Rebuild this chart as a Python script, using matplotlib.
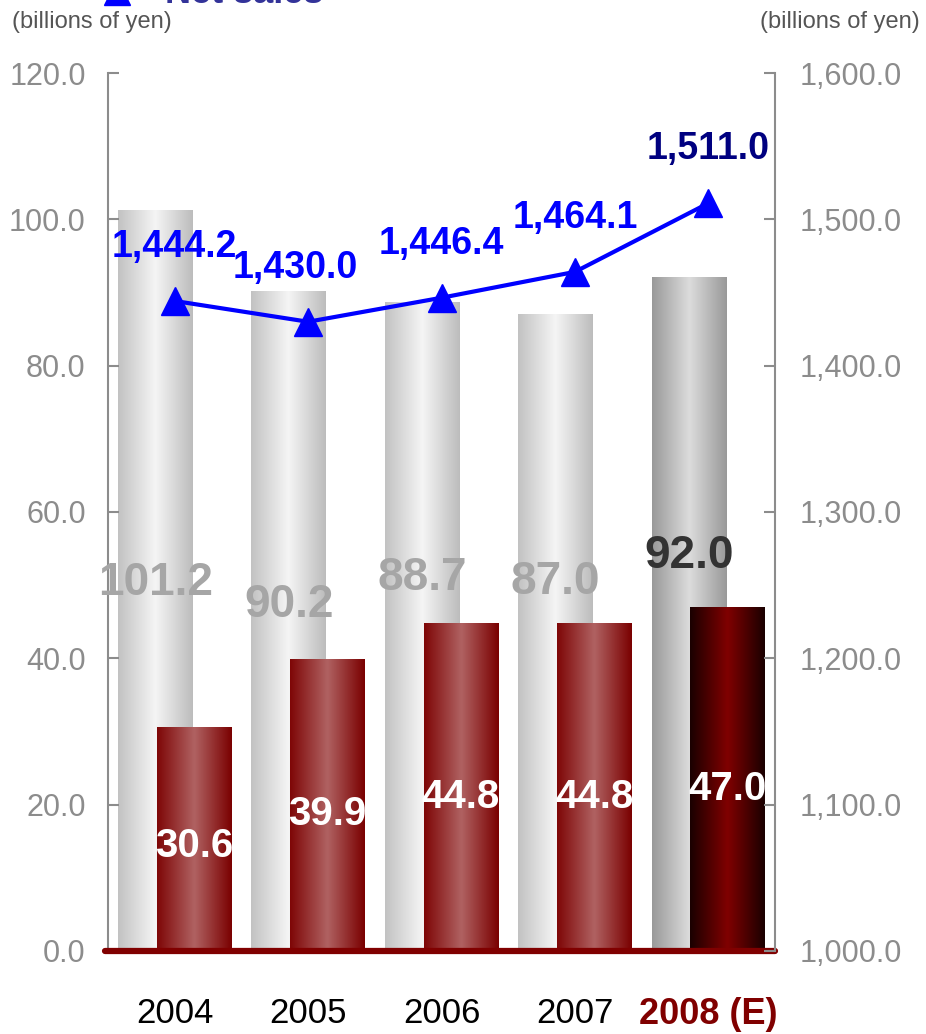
import numpy as np
import matplotlib
matplotlib.use("Agg")
import matplotlib.pyplot as plt
from matplotlib.colors import LinearSegmentedColormap
from matplotlib.lines import Line2D

plt.rcParams['font.family'] = ['Liberation Sans', 'DejaVu Sans']

years = ["2004", "2005", "2006", "2007", "2008 (E)"]
gray_vals = [101.2, 90.2, 88.7, 87.0, 92.0]
red_vals = [30.6, 39.9, 44.8, 44.8, 47.0]
net_sales = [1444.2, 1430.0, 1446.4, 1464.1, 1511.0]

# where the gray value labels sit (left axis units)
gray_label_y = [50.3, 47.3, 51.0, 50.4, 54.0]

gray_cols = ['#c2c2c2', '#f5f5f5', '#bcbcbc']
gray_cols_e = ['#999999', '#dcdcdc', '#999999']
red_cols = ['#7e0606', '#b06262', '#7a0000']
red_cols_e = ['#1a0000', '#800000', '#1a0000']


def grad_fill(ax, rect, cols, z):
    cmap = LinearSegmentedColormap.from_list('', cols)
    x, w, h = rect.get_x(), rect.get_width(), rect.get_height()
    ax.imshow(np.linspace(0, 1, 256).reshape(1, -1), cmap=cmap,
              extent=(x, x + w, 0, h), aspect='auto', zorder=z,
              interpolation='bicubic')
    rect.set_facecolor('none')


fig = plt.figure(figsize=(9.26, 10.34), dpi=100)
ax = fig.add_axes([0.1166, 0.0803, 0.7204, 0.8491])
ax2 = ax.twinx()

x = np.arange(len(years))
off, w = 0.145, 0.56

gbars = ax.bar(x - off, gray_vals, w, zorder=1, linewidth=0)
rbars = ax.bar(x + off, red_vals, w, zorder=2, linewidth=0)
for i, b in enumerate(gbars):
    grad_fill(ax, b, gray_cols_e if i == 4 else gray_cols, 1)
for i, b in enumerate(rbars):
    grad_fill(ax, b, red_cols_e if i == 4 else red_cols, 2)

for i in range(len(years)):
    c = '#333333' if i == 4 else '#a6a6a6'
    ax.text(x[i] - off, gray_label_y[i], "%.1f" % gray_vals[i], ha='center',
            va='center', fontsize=33, fontweight='bold', color=c, zorder=5)
    ax.text(x[i] + off, red_vals[i] * 0.47, "%.1f" % red_vals[i], ha='center',
            va='center', fontsize=29, fontweight='bold', color='white', zorder=5)

ax.set_xlim(-0.5, 4.5)
ax.set_ylim(0, 120)
ax.set_yticks(np.arange(0, 121, 20))
ax.set_yticklabels(["%.1f" % v for v in np.arange(0, 121, 20)])
ax.set_xticks(x)
ax.set_xticklabels(years)
ax.tick_params(axis='x', length=0, pad=33, labelsize=25)
for i, lab in enumerate(ax.get_xticklabels()):
    if i == 4:
        lab.set_color('#800000')
        lab.set_fontweight('bold')
        lab.set_fontsize(26)
ax.tick_params(axis='y', direction='in', length=8, width=1.5, color='#8c8c8c',
               labelcolor='#8c8c8c', labelsize=22, pad=16)
for s in ['top', 'right', 'bottom']:
    ax.spines[s].set_visible(False)
ax.spines['left'].set_color('#8c8c8c')
ax.spines['left'].set_linewidth(1.5)
ax.plot([-0.52, 4.5], [0, 0], color='#800000', lw=4.5,
        solid_capstyle='round', clip_on=False, zorder=6)

ax2.plot(x, net_sales, color='#0000ff', lw=3, marker='^', markersize=20,
         zorder=4)
for i, v in enumerate(net_sales):
    c = '#000080' if i == 4 else '#0000ff'
    dx = -9 if i == 1 else 0
    ax2.annotate(f"{v:,.1f}", (x[i], v), xytext=(dx, 39),
                 textcoords='offset points', ha='center', va='center',
                 fontsize=27, fontweight='bold', color=c)
ax2.set_ylim(1000, 1600)
rt = np.arange(1000, 1601, 100)
ax2.set_yticks(rt)
ax2.set_yticklabels([f"{v:,.1f}" for v in rt])
ax2.tick_params(axis='y', direction='in', length=8, width=1.5, color='#8c8c8c',
                labelcolor='#8c8c8c', labelsize=22, pad=18)
for s in ['top', 'left', 'bottom']:
    ax2.spines[s].set_visible(False)
ax2.spines['right'].set_color('#8c8c8c')
ax2.spines['right'].set_linewidth(1.5)

fig.text(12 / 926, 1 - 22 / 1034, "(billions of yen)", ha='left', va='center',
         fontsize=17, color='#555555')
fig.text(920 / 926, 1 - 22 / 1034, "(billions of yen)", ha='right', va='center',
         fontsize=17, color='#555555')
fig.add_artist(Line2D([117 / 926], [1 + 8 / 1034], marker='^', markersize=19,
                      color='#0000ff', transform=fig.transFigure))
fig.text(165 / 926, 1 - 3 / 1034, "Net sales", ha='left', va='baseline',
         fontsize=26, fontweight='bold', color='#333399')

fig.savefig("out.png", dpi=100)
